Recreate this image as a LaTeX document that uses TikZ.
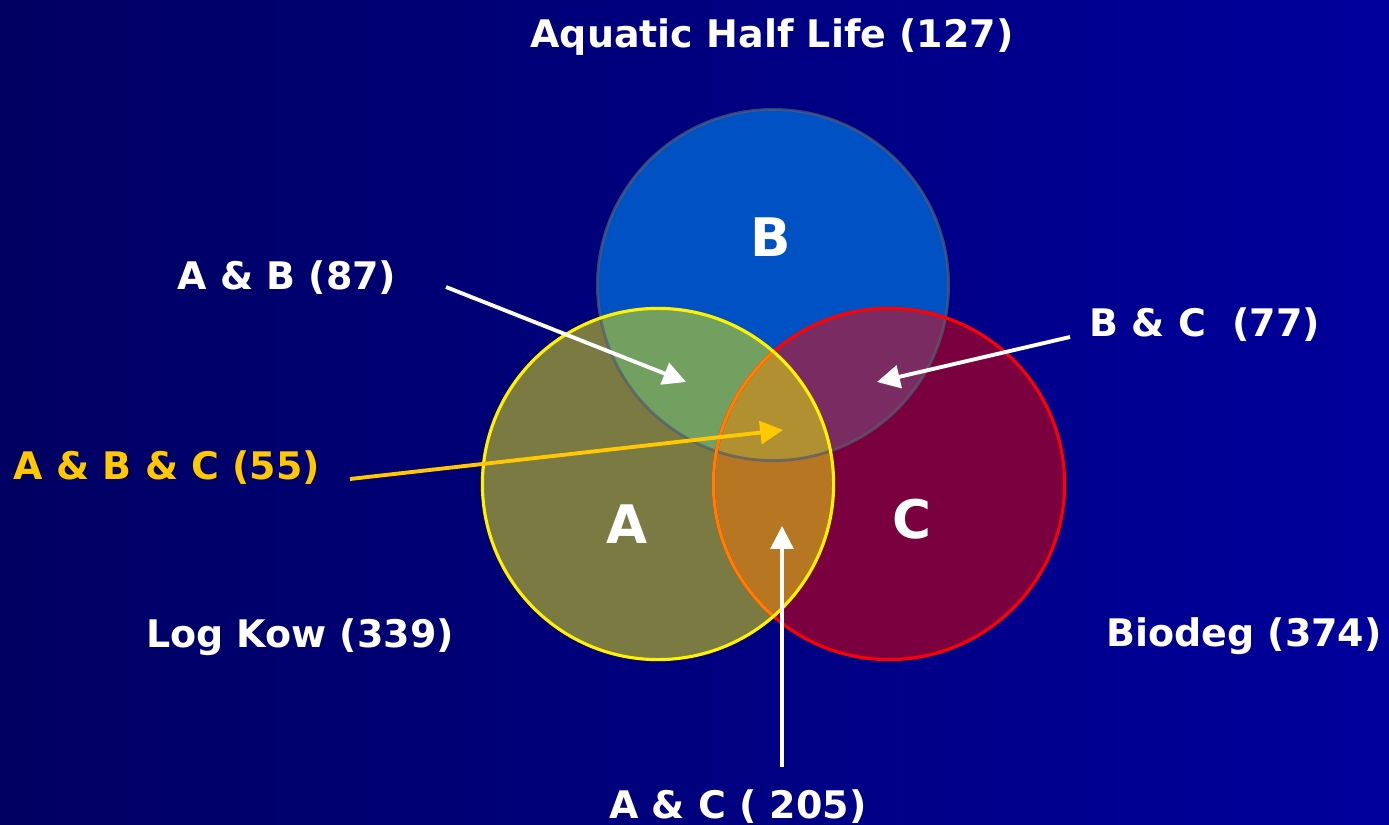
\documentclass[tikz,border=0pt]{standalone}
\usepackage{fontspec}
\setmainfont{DejaVu Sans}
\usepackage{xcolor}
\usetikzlibrary{arrows.meta,positioning}
\definecolor{bgleft}{RGB}{0,0,98}
\definecolor{bgright}{RGB}{0,0,156}
\definecolor{setA}{RGB}{122,122,66}
\definecolor{setB}{RGB}{0,82,196}
\definecolor{setC}{RGB}{122,0,64}
\definecolor{setAB}{RGB}{114,160,96}
\definecolor{setBC}{RGB}{122,44,98}
\definecolor{setAC}{RGB}{182,118,34}
\definecolor{setABC}{RGB}{176,144,48}
\definecolor{rimB}{RGB}{84,92,112}
\definecolor{allgold}{RGB}{255,200,0}
\def\rad{1.755cm}

\begin{document}
\begin{tikzpicture}[x=0.01cm, y=-0.01cm,
  lbl/.style={font=\fontsize{10.8}{13}\selectfont\bfseries, text=white, inner sep=0pt, anchor=base},
  big/.style={font=\fontsize{15.1}{18}\selectfont\bfseries, text=white, inner sep=0pt},
  ptr/.style={draw=white, line width=1.1pt, -{Triangle[length=6.5pt,width=6.5pt]}}]
\shade[left color=bgleft, right color=bgright] (0,0) rectangle (1389,825);
\useasboundingbox (0,0) rectangle (1389,825);
\coordinate (cA) at (658,484);
\coordinate (cB) at (773,285);
\coordinate (cC) at (889,484);
\fill[setB] (cB) circle (\rad);
\fill[setC] (cC) circle (\rad);
\fill[setA] (cA) circle (\rad);
\begin{scope}
\clip (cB) circle (\rad);
\fill[setBC] (cC) circle (\rad);
\end{scope}
\begin{scope}
\clip (cA) circle (\rad);
\fill[setAB] (cB) circle (\rad);
\fill[setAC] (cC) circle (\rad);
\clip (cB) circle (\rad);
\fill[setABC] (cC) circle (\rad);
\end{scope}
\draw[rimB, line width=0.8pt, opacity=0.7] (cB) circle (\rad);
\draw[red, line width=0.9pt] (cC) circle (\rad);
\begin{scope}
\clip (cA) circle (\rad);
\draw[orange, line width=0.9pt] (cC) circle (\rad);
\end{scope}
\draw[yellow, line width=0.9pt] (cA) circle (\rad);
\node[big] (ltrA) at (627,524) {A};
\node[big] (ltrB) at (771,237) {B};
\node[big] (ltrC) at (912,519) {C};
\node[lbl] (title) at (772,48) {Aquatic Half Life (127)};
\node[lbl] (lblAB) at (287,290) {A \& B (87)};
\node[lbl] (lblBC) at (1205,337) {B \& C~~(77)};
\node[lbl, text=allgold] (lblABC) at (167,479) {A \& B \& C (55)};
\node[lbl] (lblAC) at (738,818) {A \& C ( 205)};
\node[lbl] (lblA) at (300,647) {Log Kow (339)};
\node[lbl] (lblC) at (1244,646) {Biodeg (374)};
\coordinate (abTail) at (446,287);
\coordinate (abTip) at (686,382);
\coordinate (bcTail) at (1070,337);
\coordinate (bcTip) at (877,382);
\coordinate (abcTail) at (350,479);
\coordinate (abcTip) at (783,430);
\coordinate (acTail) at (782,767);
\coordinate (acTip) at (782,526);
\draw[ptr] (abTail) -- (abTip);
\draw[ptr] (bcTail) -- (bcTip);
\draw[ptr, draw=allgold] (abcTail) -- (abcTip);
\draw[ptr, line width=0.9pt] (acTail) -- (acTip);
\end{tikzpicture}
\end{document}
